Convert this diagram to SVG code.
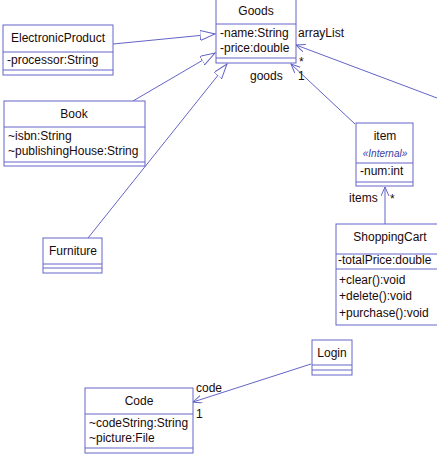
<svg xmlns="http://www.w3.org/2000/svg" width="437" height="458" viewBox="0 0 437 458">
<style>
.box{fill:#fff;stroke:#6464C8;stroke-width:1}
.ln{stroke:#6464C8;stroke-width:1;fill:none}
text{font-family:"Liberation Sans",Arial,sans-serif;font-size:12px;fill:#1a0a0a}
.c{text-anchor:middle}
.st{font-size:10px;font-style:italic;fill:#4040A0}
</style>
<defs>
<marker id="gen" markerUnits="userSpaceOnUse" markerWidth="16" markerHeight="12" refX="15" refY="5" orient="auto">
<path d="M0,0 L15,5 L0,10 z" fill="#fff" stroke="#6464C8" stroke-width="1"/>
</marker>
<marker id="open" markerUnits="userSpaceOnUse" markerWidth="10" markerHeight="10" refX="9" refY="4" orient="auto">
<path d="M0,0 L9,4 L0,8" fill="none" stroke="#6464C8" stroke-width="1"/>
</marker>
</defs>
<g id="connectors">
<line class="ln" x1="113" y1="44" x2="215" y2="34" marker-end="url(#gen)"/>
<line class="ln" x1="133" y1="101" x2="215" y2="53" marker-end="url(#gen)"/>
<line class="ln" x1="88" y1="238" x2="227" y2="64" marker-end="url(#gen)"/>
<line class="ln" x1="437" y1="98" x2="296" y2="45" marker-end="url(#open)"/>
<line class="ln" x1="355" y1="124" x2="291" y2="64" marker-end="url(#open)"/>
<line class="ln" x1="385" y1="224" x2="385" y2="187" marker-end="url(#open)"/>
<line class="ln" x1="311" y1="364" x2="193" y2="402" marker-end="url(#open)"/>
<text x="298" y="37">arrayList</text>
<text x="299" y="66">*</text>
<text x="250" y="80">goods</text>
<text x="298" y="80">1</text>
<text x="349" y="202">items</text>
<text x="390" y="203">*</text>
<text x="196" y="392">code</text>
<text x="196" y="418">1</text>
</g>
<g id="Goods">
<rect class="box" x="216" y="-1" width="80" height="64"/>
<line class="ln" x1="216" y1="24" x2="296" y2="24"/>
<line class="ln" x1="216" y1="58" x2="296" y2="58"/>
<text class="c" x="256" y="15">Goods</text>
<text x="220" y="37">-name:String</text>
<text x="220" y="52">-price:double</text>
</g>
<g id="ElectronicProduct">
<rect class="box" x="3" y="25" width="110" height="50"/>
<line class="ln" x1="3" y1="52" x2="113" y2="52"/>
<line class="ln" x1="3" y1="70" x2="113" y2="70"/>
<text class="c" x="58" y="42">ElectronicProduct</text>
<text x="7" y="64">-processor:String</text>
</g>
<g id="Book">
<rect class="box" x="4" y="101" width="141" height="65"/>
<line class="ln" x1="4" y1="127" x2="145" y2="127"/>
<line class="ln" x1="4" y1="162" x2="145" y2="162"/>
<text class="c" x="74" y="118">Book</text>
<text x="8" y="140">~isbn:String</text>
<text x="8" y="155">~publishingHouse:String</text>
</g>
<g id="Furniture">
<rect class="box" x="43" y="238" width="59" height="35"/>
<line class="ln" x1="43" y1="264" x2="102" y2="264"/>
<line class="ln" x1="43" y1="268" x2="102" y2="268"/>
<text class="c" x="73" y="255">Furniture</text>
</g>
<g id="item">
<rect class="box" x="356" y="123" width="57" height="63"/>
<line class="ln" x1="356" y1="163" x2="413" y2="163"/>
<line class="ln" x1="356" y1="182" x2="413" y2="182"/>
<text class="c" x="385" y="140">item</text>
<text class="c st" x="385" y="157">«Internal»</text>
<text x="360" y="175">-num:int</text>
</g>
<g id="ShoppingCart">
<rect class="box" x="336" y="224" width="110" height="101"/>
<line class="ln" x1="336" y1="254" x2="446" y2="254"/>
<line class="ln" x1="336" y1="269" x2="446" y2="269"/>
<text class="c" x="390" y="241">ShoppingCart</text>
<text x="338" y="264">-totalPrice:double</text>
<text x="339" y="284">+clear():void</text>
<text x="339" y="300">+delete():void</text>
<text x="339" y="317">+purchase():void</text>
</g>
<g id="Login">
<rect class="box" x="312" y="340" width="40" height="35"/>
<line class="ln" x1="312" y1="365" x2="352" y2="365"/>
<line class="ln" x1="312" y1="370" x2="352" y2="370"/>
<text class="c" x="332" y="357">Login</text>
</g>
<g id="Code">
<rect class="box" x="85" y="388" width="108" height="65"/>
<line class="ln" x1="85" y1="414" x2="193" y2="414"/>
<line class="ln" x1="85" y1="448" x2="193" y2="448"/>
<text class="c" x="139" y="405">Code</text>
<text x="89" y="427">~codeString:String</text>
<text x="89" y="442">~picture:File</text>
</g>
</svg>
